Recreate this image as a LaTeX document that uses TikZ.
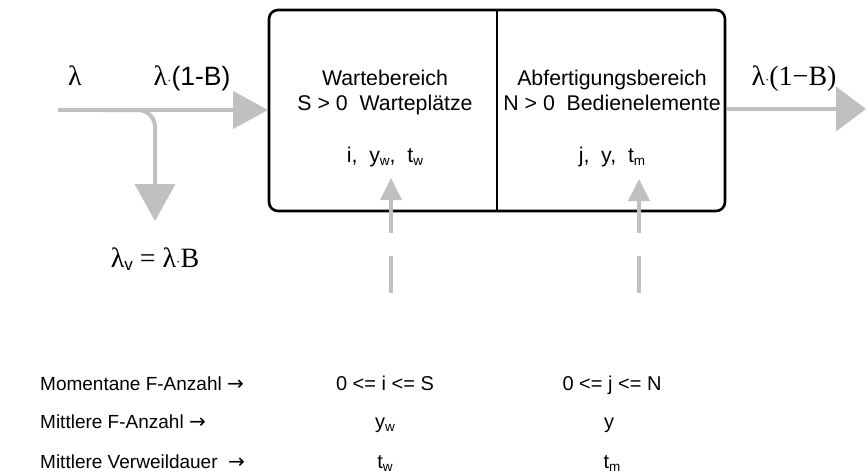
\documentclass[tikz,border=0pt]{standalone}
\usepackage{fontspec}
\setmainfont{Liberation Sans}
\newfontfamily\serifgr{Liberation Serif}
\newfontfamily\arrowfont{DejaVu Sans}
\usetikzlibrary{arrows.meta}
\definecolor{flowgray}{RGB}{192,192,192}
\newcommand{\lowsub}[1]{\raisebox{-0.35ex}{\fontsize{13.5}{14}\selectfont #1}}
\newcommand{\greeksub}[1]{\raisebox{-0.3ex}{\fontspec{Liberation Sans}\fontsize{17}{18}\selectfont #1}}
\newcommand{\tinydot}{{\fontsize{13}{13}\selectfont\raisebox{0.1ex}{·}}}
\newcommand{\rarr}{{\arrowfont\fontsize{20}{22}\selectfont →}}
\begin{document}
\begin{tikzpicture}[x=1pt,y=-1pt,
  flow/.style={draw=flowgray, line width=4pt},
  probe/.style={draw=flowgray, line width=4pt, dash pattern=on 37pt off 23pt,
    -{Triangle[length=22pt,width=21pt]}},
  boxtxt/.style={font=\fontsize{21.3}{23}\selectfont, inner sep=0pt, anchor=base},
  rowtxt/.style={font=\fontsize{20}{22}\selectfont, inner sep=0pt, anchor=base},
  rowlabel/.style={font=\fontsize{19}{21}\selectfont, inner sep=0pt, anchor=base west},
  greek/.style={font=\serifgr\fontsize{28}{30}\selectfont, inner sep=0pt, anchor=base}]
\useasboundingbox (0,0) rectangle (867,474);
% box
\draw[line width=2.6pt, rounded corners=9pt] (269,10) rectangle (725,211);
\coordinate (divT) at (497,10);
\coordinate (divB) at (497,211);
\draw[line width=2.2pt] (divT) -- (divB);
% flows
\coordinate (src) at (58,110);
\coordinate (inW) at (268,110);
\coordinate (brS) at (100,110);
\coordinate (brT) at (155,221);
\coordinate (outE) at (727,109);
\coordinate (sink) at (866,109);
\draw[flow, -{Triangle[length=35pt,width=37pt]}] (src) -- (inW);
\draw[flow, rounded corners=17pt, -{Triangle[length=37pt,width=40pt]}] (brS) -| (brT);
\draw[flow, -{Triangle[length=30pt,width=44pt]}] (outE) -- (sink);
% probes
\coordinate (p1s) at (391,293);
\coordinate (p1t) at (391,178);
\coordinate (p2s) at (639,293);
\coordinate (p2t) at (639,179);
\draw[probe] (p1s) -- (p1t);
\draw[probe] (p2s) -- (p2t);
% lambda labels
\node[greek] (lam) at (75,85) {λ};
\node[inner sep=0pt, anchor=base] (lamin) at (192,85) {{\serifgr\fontsize{28}{30}\selectfont λ}\tinydot{\fontsize{26.5}{28}\selectfont(1-B)}};
\node[greek] (lamout) at (794,85) {λ\tinydot(1−B)};
\node[greek] (lamv) at (155,267) {λ\greeksub{v} = λ\tinydot B};
% box texts
\node[boxtxt] (wb1) at (385,85) {Wartebereich};
\node[boxtxt] (wb2) at (385,110) {S > 0~~Warteplätze};
\node[boxtxt] (wb3) at (385,162) {i,~~y\lowsub{w},~~t\lowsub{w}};
\node[boxtxt] (ab1) at (612,85) {Abfertigungsbereich};
\node[boxtxt] (ab2) at (612,110) {N > 0~~Bedienelemente};
\node[boxtxt] (ab3) at (612,162) {j,~~y,~~t\lowsub{m}};
% rows
\node[rowlabel] (r1) at (40,390) {Momentane F-Anzahl \rarr};
\node[rowlabel] (r2) at (40,428) {Mittlere F-Anzahl \rarr};
\node[rowlabel] (r3) at (40,468) {Mittlere Verweildauer~~\rarr};
\node[rowtxt] (c11) at (385,390) {0 <= i <= S};
\node[rowtxt] (c12) at (612,390) {0 <= j <= N};
\node[rowtxt] (c21) at (385,428) {y\lowsub{w}};
\node[rowtxt] (c22) at (609,428) {y};
\node[rowtxt] (c31) at (385,468) {t\lowsub{w}};
\node[rowtxt] (c32) at (612,468) {t\lowsub{m}};
\end{tikzpicture}
\end{document}
